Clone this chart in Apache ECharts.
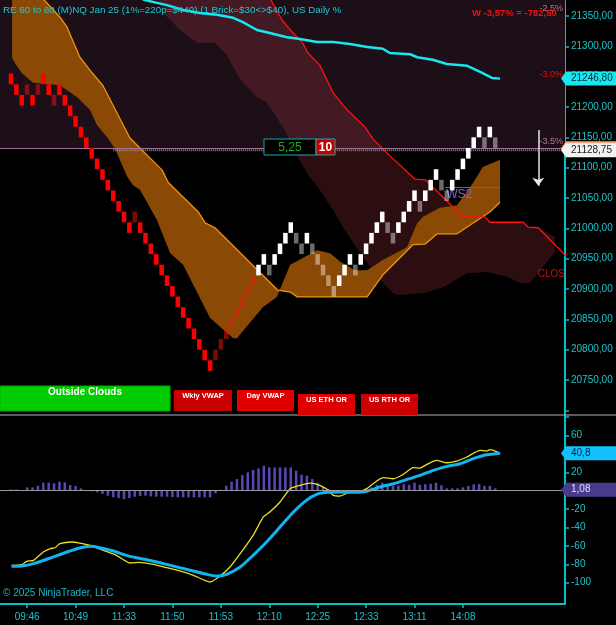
<!DOCTYPE html>
<html>
<head>
<meta charset="utf-8">
<script src="https://cdn.jsdelivr.net/npm/echarts@6.0.0/dist/echarts.min.js"></script>
<style>
  html, body { margin: 0; padding: 0; background: #000; }
  #chart { width: 616px; height: 625px; }
</style>
</head>
<body>
<div id="chart"></div>
<script>
// renko bricks (x = brick number), level counted from the lowest brick
const brickBase = 20765;
const brickSize = 17.5;
const brickLevels = [27, 26, 25, 26, 25, 26, 27, 26, 25, 26, 25,
  24, 23, 22, 21, 20, 19, 18, 17, 16, 15, 14, 13, 14, 13,
  12, 11, 10, 9, 8, 7, 6, 5, 4, 3, 2, 1, 0,
  1, 2, 3, 4, 5, 6, 7, 8,
  9, 10, 9, 10, 11, 12, 13, 12, 11, 12, 11, 10, 9, 8, 7, 8, 9, 10, 9, 10,
  11, 12, 13, 14, 13, 12, 13, 14, 15, 16, 15, 16, 17, 18, 17, 16, 17, 18,
  19, 20, 21, 22, 21, 22, 21];
// d = down, u = up inside downtrend, w = up, g = down inside uptrend
const brickKinds = ('dddududdudd' + 'dddddddddddd' + 'ud' + 'ddddddddddddd' + 'uuuuuuuu' +
  'wwgwwwwggw' + 'gggggwwwgw' + 'wwwwggwwww' + 'gwwwggwwww' + 'wwgwg').split('');

const timeLabels = ['09:46', '10:49', '11:33', '11:50', '11:53', '12:10', '12:25', '12:33', '13:11', '14:08'];
const timeIndex = [3, 12, 21, 30, 39, 48, 57, 66, 75, 84];
const priceTicks = [20750, 20800, 20850, 20900, 20950, 21000, 21050, 21100, 21150, 21200, 21250, 21300, 21350];
const oscTicks = [60, 20, -20, -40, -60, -80, -100];

// cloud (orange), edge line is drawn
const cloudEdge = [[5.9, 21379], [9.1, 21348], [10.4, 21332], [12.8, 21282], [15.1, 21256], [17.1, 21235],
  [22.1, 21149], [24.0, 21132], [28.1, 21096], [29.2, 21076], [34.8, 21027], [36.1, 21009], [37.9, 21001],
  [49.6, 20898], [51.9, 20895], [53.2, 20887], [66.2, 20887], [69.1, 20923], [74.7, 20973], [77.0, 20974],
  [79.2, 20991], [82.9, 20991], [89.0, 21027], [90.9, 21043]];
const cloudOther = [[0.2, 21379], [0.2, 21281], [0.7, 21273], [2.0, 21256], [4.1, 21240], [9.1, 21236],
  [12.3, 21216], [14.7, 21195], [16.0, 21170], [17.8, 21151], [19.3, 21132], [21.6, 21085], [22.7, 21071],
  [24.0, 21063], [27.1, 21014], [29.6, 20959], [32.0, 20940], [37.0, 20852], [41.3, 20819], [42.0, 20819],
  [46.8, 20870], [49.4, 20887], [51.9, 20940], [56.9, 20964], [59.3, 20959], [61.2, 20945], [63.9, 20931],
  [66.2, 20931], [69.1, 20948], [73.6, 20969], [75.5, 21009], [76.6, 21019], [79.7, 21034], [82.9, 21038],
  [85.9, 21075], [87.7, 21101], [90.9, 21113]];

// red line, also upper edge of the dark band
const redLine = [[48.1, 21380], [50.4, 21343], [52.2, 21324], [54.1, 21307], [55.2, 21289], [57.4, 21269],
  [59.9, 21223], [62.5, 21195], [65.8, 21167], [67.3, 21147], [69.9, 21124], [75.1, 21081], [77.0, 21080],
  [84.0, 21019], [88.1, 21019], [89.0, 21010], [95.2, 21010], [96.1, 21002], [98.0, 21001], [103.2, 20954]];
const bandBottom = [[101.1, 20986], [101.1, 20961], [96.5, 20910], [94.6, 20910], [92.2, 20920], [88.5, 20928],
  [84.8, 20926], [80.3, 20903], [76.6, 20893], [71.7, 20890], [71.0, 20893]];
const bandLeft = [[68.6, 20915], [66.2, 20943], [63.6, 20976], [61.7, 21002], [59.9, 21030], [57.4, 21063],
  [55.0, 21091], [52.8, 21126], [50.9, 21162], [47.6, 21207], [45.7, 21217], [42.6, 21245], [40.1, 21286],
  [37.9, 21306], [34.6, 21306], [31.4, 21327], [28.3, 21355], [27.3, 21380]];

const cyanLine = [[24.5, 21377], [29.0, 21368], [32.0, 21360], [35.1, 21355], [38.3, 21352], [41.3, 21347],
  [43.1, 21340], [45.7, 21327], [48.1, 21322], [51.3, 21315], [53.7, 21312], [56.9, 21307], [59.9, 21307],
  [63.0, 21304], [66.2, 21299], [69.1, 21296], [70.4, 21289], [74.2, 21287], [75.5, 21282], [78.4, 21278],
  [81.0, 21271], [84.8, 21268], [87.2, 21258], [89.4, 21248], [90.9, 21246.8]];

const lastPrice = 21128.75;
const cyanLast = 21246.80;
const pctLevels = [21352.4, 21242.4, 21132.4];   // -2.5 %, -3.0 %, -3.5 %
const closeLevel = 20912;
const ws2Level = 21068;

// oscillator panel
const histValues = [1.4, 1.4, 0.7, 3.6, 3.6, 5.4, 8.7, 8.7, 8.0, 9.8,
  9.1, 6.2, 5.1, 2.5, 0.7, -0.7, -1.8, -3.6, -5.4, -7.2,
  -8.0, -9.1, -8.0, -6.5, -5.8, -5.4, -6.2, -6.5, -6.5, -6.5,
  -6.9, -7.2, -7.2, -7.2, -7.2, -7.2, -7.2, -7.2, -2.9, 1.0,
  5.4, 9.8, 12.7, 17.0, 19.9, 22.5, 24.3, 27.2, 25.4, 25.4,
  25.4, 25.4, 25.4, 21.7, 17.4, 16.3, 12.7, 8.7, 4.3, 1.8,
  -1.4, -1.8, -1.1, -1.1, -0.7, -0.4, 1.8, 3.6, 6.2, 8.7,
  7.2, 5.4, 5.4, 7.2, 6.5, 8.7, 6.5, 7.2, 7.6, 8.7,
  5.8, 2.5, 2.5, 2.5, 3.6, 5.1, 6.9, 7.2, 5.1, 5.1, 2.5];
const fastLine = [[0.1, -81.2], [2.0, -80.4], [2.9, -76.8], [4.2, -75.7], [6.0, -66.7], [7.3, -63.0],
  [8.2, -62.0], [9.1, -57.6], [11.3, -55.8], [12.8, -56.9], [14.7, -59.4], [17.2, -64.9], [19.6, -70.3],
  [22.1, -78.6], [23.9, -77.9], [26.5, -80.1], [28.9, -83.7], [31.4, -87.3], [33.9, -92.0], [37.0, -99.3],
  [38.8, -93.1], [40.7, -83.0], [42.6, -68.5], [45.0, -48.6], [46.9, -28.6], [48.1, -23.2], [50.0, -12.3],
  [51.9, 2.2], [53.7, 5.8], [55.6, 8.3], [57.4, 5.8], [59.0, 0.4], [59.9, -5.1], [61.1, -5.8], [63.0, -1.4],
  [64.9, -0.7], [66.1, 2.2], [69.2, 14.1], [71.1, 13.0], [72.9, 17.8], [74.8, 25.0], [76.0, 24.6],
  [77.3, 28.6], [79.1, 33.0], [81.0, 30.4], [82.8, 32.2], [84.7, 36.6], [87.2, 43.8], [88.4, 43.1],
  [89.0, 44.6], [90.9, 40.9]];
const slowLine = [[0.1, -82.2], [2.0, -81.9], [4.2, -79.3], [7.3, -73.2], [10.4, -66.7], [12.8, -62.3],
  [14.7, -60.5], [16.5, -62.0], [19.0, -65.6], [22.1, -71.4], [25.2, -75.0], [28.9, -80.1], [32.6, -85.5],
  [36.4, -90.9], [38.2, -92.8], [40.1, -90.9], [42.6, -83.0], [45.0, -70.3], [47.5, -55.8], [50.0, -39.5],
  [52.5, -23.2], [54.9, -10.5], [56.8, -4.0], [58.7, -1.8], [61.1, -1.4], [63.6, -1.8], [66.1, -0.7],
  [68.6, 4.0], [71.1, 7.6], [73.5, 12.0], [76.0, 16.7], [78.5, 22.1], [81.0, 26.4], [83.5, 29.3],
  [85.9, 34.8], [88.4, 39.1], [90.9, 40.8]];
const slowLast = 40.8;
const histLast = 1.08;

const xMin = -2.045, xMax = 102.97;
const priceMin = 20692.3, priceMax = 21376.4;
const oscMin = -123.2, oscMax = 82.3;

const FONT = '"Liberation Sans", Arial, sans-serif';
const AXIS = '#00c0c8';
const AXIS_TEXT = '#1cc4cc';
const NO_LINE = { color: 'rgba(0,0,0,0)', width: 0 };

const brickColor = {
  d: '#ff0000',
  u: 'rgba(240,20,20,0.5)',
  w: '#ffffff',
  g: 'rgba(255,255,255,0.42)'
};

const bandPoly = redLine.slice(0, 19).concat(bandBottom, bandLeft);
const cloudPoly = cloudEdge.concat(cloudOther.slice().reverse());

function polygonItem(points, fill) {
  return function (params, api) {
    if (params.dataIndex !== 0) return null;
    return {
      type: 'polygon',
      shape: { points: points.map(p => api.coord(p)) },
      style: { fill: fill }
    };
  };
}

const chart = echarts.init(document.getElementById('chart'), null, { renderer: 'canvas' });

chart.setOption({
  backgroundColor: '#000000',
  animation: false,
  grid: [
    { left: 0, right: 51, top: 0, height: 415, outerBoundsMode: 'none' },
    { left: 0, right: 51, top: 415, height: 189, outerBoundsMode: 'none' }
  ],
  xAxis: [
    { type: 'value', gridIndex: 0, min: xMin, max: xMax, show: false },
    {
      type: 'value', gridIndex: 1, min: xMin, max: xMax,
      axisLine: { show: true, onZero: false, lineStyle: { color: AXIS, width: 2 } },
      axisTick: { show: true, customValues: timeIndex, length: 4, lineStyle: { color: AXIS, width: 1.5 } },
      axisLabel: {
        customValues: timeIndex, margin: 8, color: AXIS_TEXT, fontSize: 10, fontFamily: FONT,
        formatter: v => timeLabels[timeIndex.indexOf(Math.round(v))]
      },
      splitLine: { show: false }
    }
  ],
  yAxis: [
    {
      type: 'value', gridIndex: 0, position: 'right', min: priceMin, max: priceMax,
      axisLine: { show: true, onZero: false, lineStyle: { color: AXIS, width: 2 } },
      axisTick: { show: true, customValues: [20700].concat(priceTicks), length: 4, lineStyle: { color: AXIS, width: 1.5 } },
      axisLabel: {
        customValues: priceTicks, margin: 6, color: AXIS_TEXT, fontSize: 10, fontFamily: FONT,
        formatter: v => v.toFixed(2).replace('.', ',')
      },
      splitLine: { show: false }
    },
    {
      type: 'value', gridIndex: 1, position: 'right', min: oscMin, max: oscMax,
      axisLine: { show: true, onZero: false, lineStyle: { color: AXIS, width: 2 } },
      axisTick: { show: true, customValues: [80, 60, 40, 20, 0, -20, -40, -60, -80, -100], length: 4, lineStyle: { color: AXIS, width: 1.5 } },
      axisLabel: {
        customValues: oscTicks, margin: 6, color: AXIS_TEXT, fontSize: 10, fontFamily: FONT,
        formatter: v => String(v)
      },
      splitLine: { show: false }
    }
  ],
  series: [
    {
      // last price dotted line + zone shading and % levels
      type: 'line', name: 'last', xAxisIndex: 0, yAxisIndex: 0, z: 5,
      data: [[19, lastPrice], [xMax, lastPrice]],
      showSymbol: false,
      lineStyle: { color: '#8c8c8c', width: 2, type: [1, 1] },
      markArea: {
        silent: true,
        itemStyle: { color: '#1d0f17' },
        data: [[{ yAxis: pctLevels[2] }, { yAxis: priceMax }]]
      },
      markLine: {
        silent: true, symbol: 'none',
        label: { position: 'insideEndTop', distance: [2, 2], fontSize: 9, fontFamily: FONT },
        data: [
          { yAxis: pctLevels[2], lineStyle: { color: '#a0709a', width: 1, type: 'solid' }, label: { formatter: '-3.5%', color: '#b07a90' } },
          { yAxis: pctLevels[1], lineStyle: NO_LINE, label: { formatter: '-3.0%', color: '#e01010' } },
          { yAxis: pctLevels[0], lineStyle: NO_LINE, label: { formatter: '-2.5%', color: '#b07a90' } },
          { yAxis: closeLevel, lineStyle: NO_LINE, label: { formatter: 'CLOS', color: '#d01010', fontSize: 10, distance: [0, 2] } }
        ]
      }
    },
    {
      type: 'custom', name: 'band', xAxisIndex: 0, yAxisIndex: 0, z: 2, clip: true, silent: true,
      encode: { x: 0, y: 1 }, data: bandPoly,
      renderItem: polygonItem(bandPoly, 'rgba(220,70,85,0.2)')
    },
    {
      type: 'custom', name: 'cloud', xAxisIndex: 0, yAxisIndex: 0, z: 3, clip: true, silent: true,
      encode: { x: 0, y: 1 }, data: cloudPoly,
      renderItem: polygonItem(cloudPoly, '#8a4a06')
    },
    {
      type: 'line', name: 'cloudEdge', xAxisIndex: 0, yAxisIndex: 0, z: 4,
      data: cloudEdge, showSymbol: false,
      lineStyle: { color: '#ec9410', width: 1.3 }
    },
    {
      type: 'line', name: 'red', xAxisIndex: 0, yAxisIndex: 0, z: 4,
      data: redLine, showSymbol: false,
      lineStyle: { color: '#ff1010', width: 1.3 },
      markLine: {
        silent: true, symbol: 'none',
        data: [[{ coord: [80.7, ws2Level] }, { coord: [90.9, ws2Level] }]],
        lineStyle: { color: '#6a5ab8', width: 1, type: 'solid' },
        label: { formatter: 'WS2', position: 'insideStartBottom', distance: [1, 2], color: '#7a6ad0', fontSize: 12, fontFamily: FONT }
      }
    },
    {
      type: 'line', name: 'cyan', xAxisIndex: 0, yAxisIndex: 0, z: 4,
      data: cyanLine, showSymbol: false,
      lineStyle: { color: '#18e6f0', width: 2.5 },
      markLine: {
        silent: true, symbol: ['none', 'arrow'], symbolSize: [9, 8],
        data: [[{ coord: [98, 21162] }, { coord: [98, 21070] }]],
        lineStyle: { color: '#e8e8e8', width: 1.5, type: 'solid' },
        label: { show: false }
      }
    },
    {
      type: 'custom', name: 'bricks', xAxisIndex: 0, yAxisIndex: 0, z: 6, clip: true, silent: true,
      encode: { x: 0, y: 1 },
      data: brickLevels.map((l, i) => [i, brickBase + l * brickSize]),
      renderItem: function (params, api) {
        const i = api.value(0), lo = api.value(1);
        const a = api.coord([i - 0.42, lo + brickSize]);
        const b = api.coord([i + 0.42, lo]);
        return {
          type: 'rect',
          shape: { x: a[0], y: a[1], width: b[0] - a[0], height: b[1] - a[1] },
          style: { fill: brickColor[brickKinds[params.dataIndex]] }
        };
      }
    },
    {
      type: 'bar', name: 'hist', xAxisIndex: 1, yAxisIndex: 1, z: 2,
      data: histValues.map((v, i) => [i, v]),
      barWidth: 2.5,
      itemStyle: { color: '#5b47b5' },
      markLine: {
        silent: true, symbol: 'none',
        data: [{ yAxis: 0 }],
        lineStyle: { color: '#9a9a9a', width: 1, type: 'solid' },
        label: { show: false }
      }
    },
    {
      type: 'line', name: 'fast', xAxisIndex: 1, yAxisIndex: 1, z: 3,
      data: fastLine, showSymbol: false, smooth: 0.2,
      lineStyle: { color: '#e8e020', width: 1.3 }
    },
    {
      type: 'line', name: 'slow', xAxisIndex: 1, yAxisIndex: 1, z: 4,
      data: slowLine, showSymbol: false, smooth: 0.2,
      lineStyle: { color: '#12b4f0', width: 3 }
    }
  ]
});

// price tags on the right axis
function tag(y, text, fill, color) {
  return {
    type: 'group', z: 100,
    children: [
      { type: 'polygon', z: 100, shape: { points: [[561, y], [566, y - 7], [616, y - 7], [616, y + 7], [566, y + 7]] }, style: { fill: fill } },
      { type: 'text', z: 101, x: 571, y: y, style: { text: text, fill: color, font: '10px ' + FONT, verticalAlign: 'middle' } }
    ]
  };
}

function box(x, y, w, h, fill, text, fontSize, textY, stroke) {
  return {
    type: 'group', z: 100,
    children: [
      { type: 'rect', z: 100, shape: { x: x, y: y, width: w, height: h }, style: { fill: fill, stroke: stroke || null, lineWidth: 1 } },
      { type: 'text', z: 101, x: x + w / 2, y: textY, style: { text: text, fill: '#ffffff', font: 'bold ' + fontSize + 'px ' + FONT, align: 'center', verticalAlign: 'middle' } }
    ]
  };
}

const yCyan = chart.convertToPixel({ yAxisIndex: 0 }, cyanLast);
const yLast = chart.convertToPixel({ yAxisIndex: 0 }, lastPrice);
const ySlow = chart.convertToPixel({ yAxisIndex: 1 }, slowLast);
const yHist = chart.convertToPixel({ yAxisIndex: 1 }, histLast);

chart.setOption({
  graphic: [
    { type: 'line', z: 90, shape: { x1: 0, y1: 415, x2: 616, y2: 415 }, style: { stroke: '#b4b4b4', lineWidth: 1 } },
    { type: 'text', z: 100, x: 3, y: 10, style: { text: 'RE 60 to 80 (M)NQ Jan 25 (1%=220p=$440) (1 Brick=$30<>$40), US Daily %', fill: '#1ec8d4', font: '9.8px ' + FONT, verticalAlign: 'middle' } },
    { type: 'text', z: 100, x: 472, y: 13, style: { text: 'W -3,57% = -782,50', fill: '#ee1414', font: 'bold 9.5px ' + FONT, verticalAlign: 'middle' } },
    { type: 'text', z: 100, x: 3, y: 593, style: { text: '\u00a9 2025 NinjaTrader, LLC', fill: '#18b8c8', font: '10px ' + FONT, verticalAlign: 'middle' } },
    box(264, 139, 52, 16, '#000000', '', 12, 147, '#18a8b0'),
    { type: 'text', z: 101, x: 290, y: 147.5, style: { text: '5,25', fill: '#22a822', font: '12px ' + FONT, align: 'center', verticalAlign: 'middle' } },
    box(316, 139, 19, 16, '#c40000', '10', 12, 147.5, '#18a8b0'),
    box(0, 386, 170, 25, '#00cc00', 'Outside Clouds', 10, 392, '#00a800'),
    box(174, 390, 58, 21, '#c80000', 'Wkly VWAP', 7.5, 395.5),
    box(237, 390, 57, 21, '#e00000', 'Day VWAP', 7.5, 395.5),
    box(298, 394, 57, 21, '#dc0000', 'US ETH OR', 7.5, 399.5),
    box(361, 394, 57, 21, '#cc0000', 'US RTH OR', 7.5, 399.5),
    tag(yCyan, '21246,80', '#18e6f0', '#003038'),
    tag(yLast - 2, '', '#f0a878', '#000000'),
    tag(yLast, '21128,75', '#f2f2f2', '#202020'),
    tag(ySlow, '40,8', '#12c0ff', '#002a40'),
    tag(yHist, '1,08', '#4a3a8c', '#e0e0ff')
  ]
});
</script>
</body>
</html>
